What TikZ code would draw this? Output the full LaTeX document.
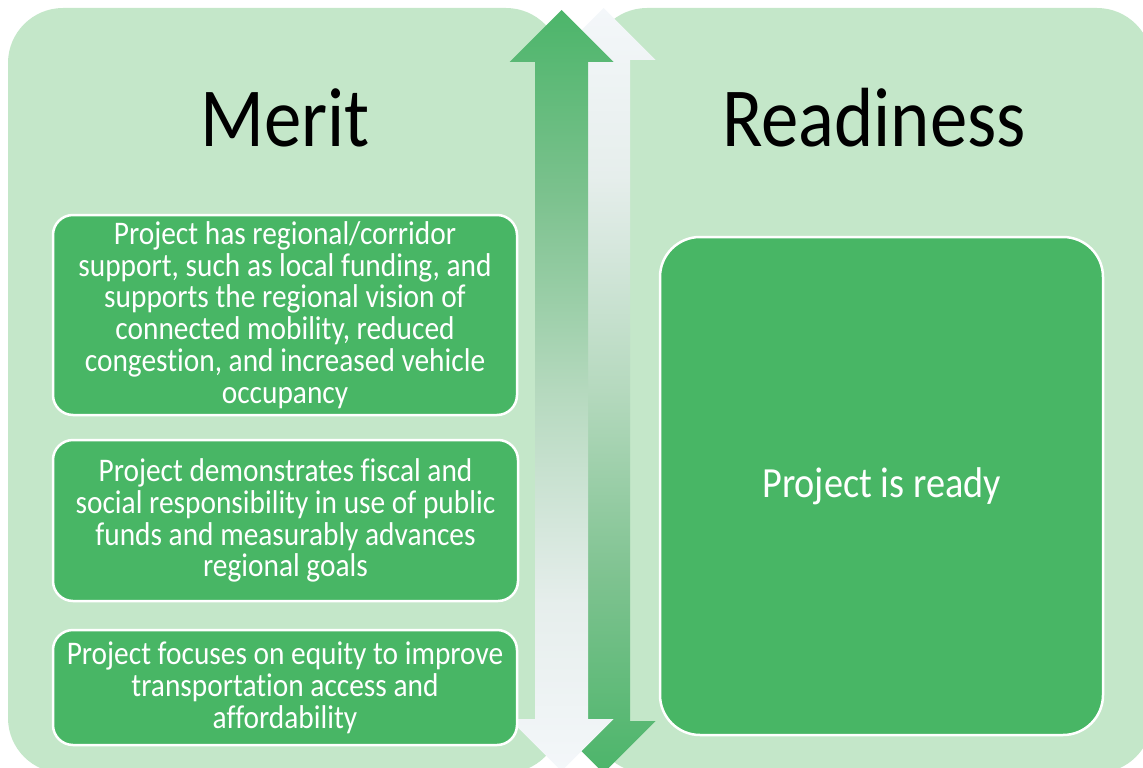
\documentclass[tikz,border=0pt]{standalone}
\usepackage{fontspec}
\setmainfont{Carlito}[FakeStretch=0.89, Ligatures=NoCommon]
\definecolor{panelgreen}{RGB}{196,231,201}
\definecolor{boxgreen}{RGB}{72,182,101}
\definecolor{arrowgreen}{RGB}{76,181,106}
\definecolor{arrowlight}{RGB}{244,247,250}
\definecolor{shadeA}{RGB}{125,194,143}
\definecolor{shadeB}{RGB}{181,217,190}
\definecolor{shadeC}{RGB}{230,238,236}
% vertical fades: 25bp = bottom of the path, 75bp = top of the path
\pgfdeclareverticalshading{fadeup}{100bp}{color(0bp)=(arrowlight); color(25bp)=(arrowlight); color(36bp)=(shadeC); color(50bp)=(shadeB); color(62.5bp)=(shadeA); color(75bp)=(arrowgreen); color(100bp)=(arrowgreen)}
\pgfdeclareverticalshading{fadedown}{100bp}{color(0bp)=(arrowgreen); color(25bp)=(arrowgreen); color(37.5bp)=(shadeA); color(50bp)=(shadeB); color(64bp)=(shadeC); color(75bp)=(arrowlight); color(100bp)=(arrowlight)}
\begin{document}
\begin{tikzpicture}[x=1pt,y=-1pt,
  panel/.style={fill=panelgreen, rounded corners=55pt},
  itembox/.style={fill=boxgreen, draw=white, line width=2.5pt, rounded corners=20pt,
    text=white, align=center, inner sep=0pt,
    font=\fontsize{33}{31.8}\selectfont},
  heading/.style={font=\fontsize{84}{84}\selectfont, text=black, anchor=base, inner sep=0pt}]
\useasboundingbox (0,0) rectangle (1143,768);
\clip (0,0) rectangle (1143,768);

% two background panels
\fill[panel] (8,8) rectangle (561,773);
\fill[panel] (592,8) rectangle (1152,773);

% right double arrow (light at top, green at bottom)
\shade[shading=fadedown]
  (603.5,8) -- (655.5,60) -- (630,60) -- (630,721) -- (655.5,721) -- (603.5,773)
  -- (551.5,721) -- (577,721) -- (577,60) -- (551.5,60) -- cycle;
% left double arrow (green at top, light at bottom)
\shade[shading=fadeup]
  (561.5,10) -- (613.5,62) -- (588,62) -- (588,719) -- (613.5,719) -- (561.5,771)
  -- (509.5,719) -- (535,719) -- (535,62) -- (509.5,62) -- cycle;

% headings
\node[heading] (merit) at (285,146) {Merit};
\node[heading] (readiness) at (874,146) {Readiness};

% merit criteria
\node[itembox, minimum width=464pt, minimum height=200pt] (support) at (285,315)
  {Project has regional/corridor\\support, such as local funding, and\\supports the regional vision of\\connected mobility, reduced\\congestion, and increased vehicle\\occupancy};
\node[itembox, minimum width=465pt, minimum height=161pt] (fiscal) at (285.5,520.5)
  {Project demonstrates fiscal and\\social responsibility in use of public\\funds and measurably advances\\regional goals};
\node[itembox, minimum width=464pt, minimum height=115pt] (equity) at (285,687.5)
  {Project focuses on equity to improve\\transportation access and\\affordability};

% readiness criterion
\node[itembox, rounded corners=40pt, minimum width=443pt, minimum height=498pt,
  font=\fontsize{43}{48}\selectfont] (ready) at (881.5,486) {Project is ready};
\end{tikzpicture}
\end{document}
